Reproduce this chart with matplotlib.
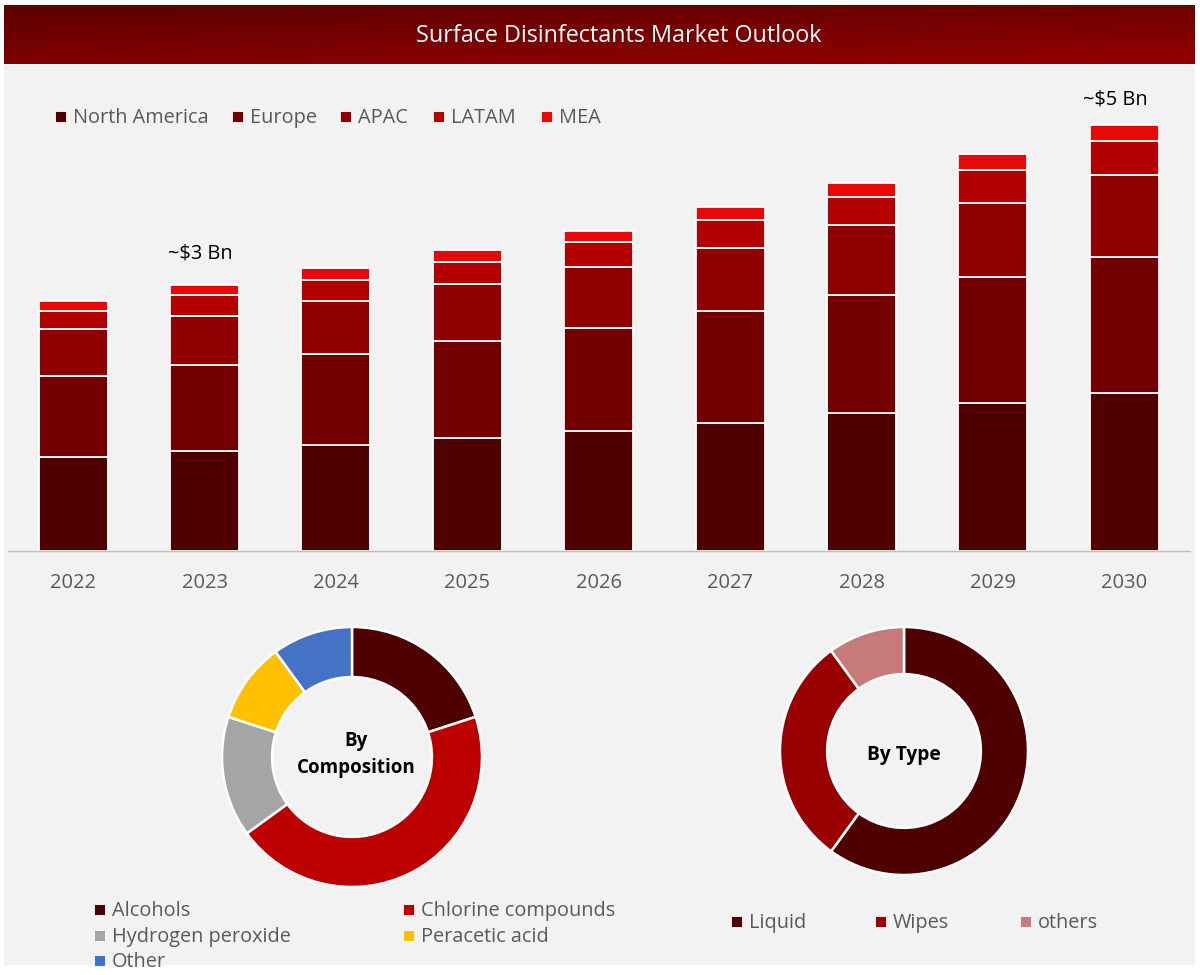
import numpy as np
import matplotlib
matplotlib.use('Agg')
import matplotlib.pyplot as plt
from matplotlib.patches import Rectangle
from matplotlib.colors import LinearSegmentedColormap

plt.rcParams['font.family'] = ['Open Sans', 'DejaVu Sans']

# data
years = ['2022', '2023', '2024', '2025', '2026', '2027', '2028', '2029', '2030']
regions = ['North America', 'Europe', 'APAC', 'LATAM', 'MEA']
north_america = [1.11, 1.18, 1.25, 1.33, 1.41, 1.51, 1.62, 1.74, 1.86]
europe = [0.95, 1.01, 1.07, 1.14, 1.21, 1.31, 1.39, 1.48, 1.60]
apac = [0.55, 0.58, 0.62, 0.67, 0.72, 0.75, 0.82, 0.88, 0.96]
latam = [0.21, 0.24, 0.25, 0.26, 0.29, 0.33, 0.34, 0.38, 0.40]
mea = [0.12, 0.12, 0.14, 0.14, 0.14, 0.15, 0.16, 0.19, 0.19]
region_colors = ['#4f0000', '#720000', '#900000', '#b30000', '#e80808']

comp_labels = ['Alcohols', 'Chlorine compounds', 'Hydrogen peroxide', 'Peracetic acid', 'Other']
comp_values = [20, 45, 15, 10, 10]
comp_colors = ['#4f0000', '#bc0000', '#a5a5a5', '#ffc000', '#4472c4']

type_labels = ['Liquid', 'Wipes', 'others']
type_values = [60, 30, 10]
type_colors = ['#4f0000', '#990000', '#c67a7a']

W, H = 1200, 975
fig = plt.figure(figsize=(12, 9.75), dpi=100, facecolor='white')


def px_axes(x0, y0, x1, y1, **kw):
    # axes from pixel box, y measured from the top
    return fig.add_axes([x0 / W, 1 - y1 / H, (x1 - x0) / W, (y1 - y0) / H], **kw)


def legend_item(x, y, color, label, size=14.3):
    fig.patches.append(Rectangle(((x - 1) / W, 1 - (y + 5.5) / H), 11 / W, 11 / H,
                                 transform=fig.transFigure, facecolor=color,
                                 edgecolor='white', linewidth=0.6))
    fig.text((x + 17) / W, 1 - (y + 7.1) / H, label, fontsize=size, color='#595959',
             ha='left', va='baseline')


# panel background
fig.patches.append(Rectangle((4 / W, 1 - 965 / H), 1191 / W, 900 / H,
                             transform=fig.transFigure, facecolor='#f2f2f2',
                             edgecolor='none', zorder=-1))

# header band
head = px_axes(4, 5, 1195, 64)
head.axis('off')
xx, yy = np.meshgrid(np.linspace(0, 1, 300), np.linspace(0, 1, 40))
cmap = LinearSegmentedColormap.from_list('head', ['#5c0000', '#940000'])
head.imshow(0.35 * xx + 0.65 * yy, cmap=cmap, aspect='auto', vmin=0, vmax=1)
fig.text(618.5 / W, 1 - 35.5 / H, 'Surface Disinfectants Market Outlook', color='white',
         fontsize=16.8, ha='center', va='center')

# stacked bars
ax = px_axes(7.5, 65, 1190, 551)
ax.patch.set_alpha(0)
x = np.arange(len(years))
bottom = np.zeros(len(years))
for name, vals, c in zip(regions, [north_america, europe, apac, latam, mea], region_colors):
    ax.bar(x, vals, 0.525, bottom=bottom, color=c, edgecolor='white', linewidth=1.3, label=name)
    bottom += np.array(vals)
ax.set_xlim(-0.5, 8.5)
ax.set_ylim(0, 486 / 85)
ax.set_xticks(x, years)
ax.set_yticks([])
ax.tick_params(axis='x', length=0, pad=15.5, labelsize=14.5, labelcolor='#595959')
for s in ['top', 'left', 'right']:
    ax.spines[s].set_visible(False)
ax.spines['bottom'].set_color('#bfbfbf')
ax.spines['bottom'].set_linewidth(1)

fig.text(200 / W, 1 - 254 / H, '~$3 Bn', fontsize=14.3, color='black', ha='center', va='center')
fig.text(1115 / W, 1 - 99.5 / H, '~$5 Bn', fontsize=14.3, color='black', ha='center', va='center')

for px, name, c in zip([56, 233, 341, 434, 542], regions, region_colors):
    legend_item(px, 116, c, name)

# donuts
ax1 = px_axes(222, 627, 482, 887)
ax1.pie(comp_values, colors=comp_colors, startangle=90, counterclock=False, radius=1,
        wedgeprops=dict(width=0.385, edgecolor='white', linewidth=1.8))
ax1.set_xlim(-1, 1)
ax1.set_ylim(-1, 1)
ax1.text(0.03, 0.02, 'By\nComposition', fontsize=13.5, fontweight='bold', color='black',
         ha='center', va='center', linespacing=1.45)

ax2 = px_axes(780, 627, 1028, 875)
ax2.pie(type_values, colors=type_colors, startangle=90, counterclock=False, radius=1,
        wedgeprops=dict(width=0.38, edgecolor='white', linewidth=1.8))
ax2.set_xlim(-1, 1)
ax2.set_ylim(-1, 1)
ax2.text(0, -0.03, 'By Type', fontsize=13.8, fontweight='bold', color='black',
         ha='center', va='center')

# donut legends
comp_pos = [(95, 909), (404, 909), (95, 935), (404, 935), (95, 960)]
for (px, py), name, c in zip(comp_pos, comp_labels, comp_colors):
    legend_item(px, py, c, name)
for px, name, c in zip([732, 876, 1021], type_labels, type_colors):
    legend_item(px, 921, c, name)

fig.savefig('out.png', dpi=100, facecolor='white')
